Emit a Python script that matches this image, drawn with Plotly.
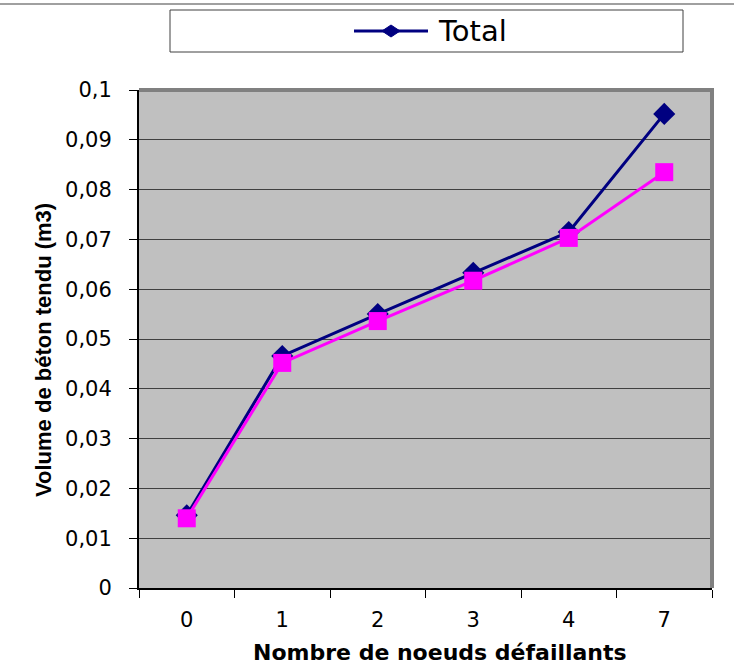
import plotly.graph_objects as go

# Number of failed nodes (categorical axis)
categories = ["0", "1", "2", "3", "4", "7"]
# Tensioned concrete volume (m3)
total = [0.0146, 0.0466, 0.0550, 0.0633, 0.0715, 0.0952]
second_series = [0.0140, 0.0452, 0.0536, 0.0617, 0.0703, 0.0835]
y_ticks = [0, 0.01, 0.02, 0.03, 0.04, 0.05, 0.06, 0.07, 0.08, 0.09, 0.1]

NAVY = "#000080"
PINK = "#FF00FF"
FONT = "DejaVu Sans, Liberation Sans, Arial, sans-serif"

fig = go.Figure()
fig.add_trace(go.Scatter(
    x=categories, y=total, name="Total", mode="lines+markers",
    line=dict(color=NAVY, width=3),
    marker=dict(symbol="diamond", size=17, color=NAVY),
))
fig.add_trace(go.Scatter(
    x=categories, y=second_series, name="", mode="lines+markers",
    line=dict(color=PINK, width=3),
    marker=dict(symbol="square", size=18, color=PINK),
))

W, H = 734, 666
L, R, T, B = 139, 22, 90, 78
pw, ph = W - L - R, H - T - B


def px(xp):
    return (xp - L) / pw


def py(yp):
    return (H - B - yp) / ph


# legend key geometry (pixels)
key_y = 31
key_x0, key_x1, key_cx = 354, 428, 391
dw, dh = 9, 6
diamond = (f"M {px(key_cx - dw)},{py(key_y)} L {px(key_cx)},{py(key_y - dh)} "
           f"L {px(key_cx + dw)},{py(key_y)} L {px(key_cx)},{py(key_y + dh)} Z")

shapes = [
    # thin rule across the top of the page
    dict(type="line", xref="paper", yref="paper", x0=px(0), x1=px(734),
         y0=py(4), y1=py(4), line=dict(color="#A0A0A0", width=2)),
    # legend frame
    dict(type="rect", xref="paper", yref="paper", x0=px(170), x1=px(683),
         y0=py(52), y1=py(10), line=dict(color="#404040", width=1),
         fillcolor="white", layer="below"),
    # legend key: line with diamond
    dict(type="line", xref="paper", yref="paper", x0=px(key_x0), x1=px(key_x1),
         y0=py(key_y), y1=py(key_y), line=dict(color=NAVY, width=3)),
    dict(type="path", xref="paper", yref="paper", path=diamond,
         fillcolor=NAVY, line=dict(color=NAVY, width=1)),
    # plot area frame (top and right)
    dict(type="path", xref="paper", yref="paper",
         path="M 0,1 L 1,1 L 1,0",
         line=dict(color="#808080", width=4)),
]

annotations = [
    dict(text="Total", xref="paper", yref="paper", x=px(436), y=py(key_y),
         xanchor="left", yanchor="middle", showarrow=False,
         font=dict(family=FONT, size=29, color="black")),
    # y axis title
    dict(text="<b>Volume de béton tendu (m3)</b>", xref="paper", yref="paper",
         x=px(43), y=py(350), xanchor="center", yanchor="middle",
         textangle=-90, showarrow=False,
         font=dict(family="Liberation Sans, Arial, sans-serif", size=22,
                   color="black")),
    # x axis title
    dict(text="<b>Nombre de noeuds défaillants</b>", xref="paper", yref="paper",
         x=px(440), y=py(652), xanchor="center", yanchor="middle",
         showarrow=False,
         font=dict(family=FONT, size=22, color="black")),
]

fig.update_layout(
    width=W, height=H,
    margin=dict(l=L, r=R, t=T, b=B, autoexpand=False),
    paper_bgcolor="white",
    plot_bgcolor="#C0C0C0",
    font=dict(family=FONT, size=21, color="black"),
    showlegend=False,
    shapes=shapes,
    annotations=annotations,
    xaxis=dict(
        type="category", categoryorder="array", categoryarray=categories,
        range=[-0.5, 5.5], automargin=False,
        tickson="boundaries", ticks="outside", ticklen=8, tickcolor="black",
        ticklabelstandoff=12,
        showline=True, linecolor="black", linewidth=2,
        showgrid=False, zeroline=False,
        tickfont=dict(size=21),
    ),
    yaxis=dict(
        range=[0, 0.1], tickvals=y_ticks, automargin=False,
        ticktext=[("%g" % v).replace(".", ",") for v in y_ticks],
        ticks="outside", ticklen=8, tickcolor="black",
        ticklabelstandoff=13,
        showline=True, linecolor="black", linewidth=2,
        showgrid=True, gridcolor="#404040", gridwidth=1,
        zeroline=False, tickfont=dict(size=21),
    ),
)

fig.write_html("out.html")
